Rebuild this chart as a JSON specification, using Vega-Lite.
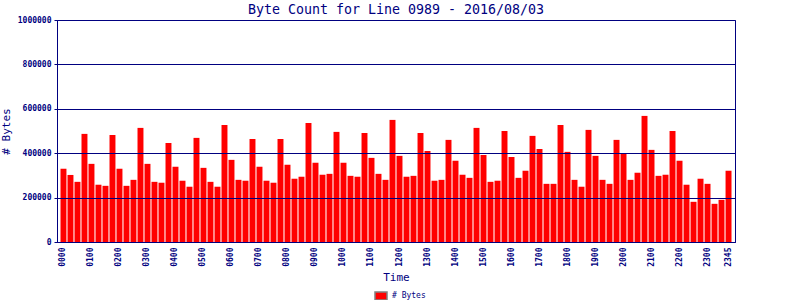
{
  "$schema": "https://vega.github.io/schema/vega-lite/v6.json",
  "autosize": {"type": "none"},
  "width": 678,
  "height": 222,
  "padding": {"left": 57, "top": 20, "right": 65, "bottom": 58},
  "background": "white",
  "title": {
    "text": "Byte Count for Line 0989 - 2016/08/03",
    "font": "DejaVu Sans Mono",
    "fontSize": 13.3,
    "fontWeight": "normal",
    "color": "#000080",
    "anchor": "middle",
    "offset": 0
  },
  "config": {
    "view": {"stroke": "#000080", "strokeWidth": 1},
    "font": "DejaVu Sans Mono"
  },
  "data": {
    "values": [
      {"t": "0000", "b": 330000}, {"t": "0015", "b": 302000}, {"t": "0030", "b": 271000}, {"t": "0045", "b": 487000},
      {"t": "0100", "b": 352000}, {"t": "0115", "b": 258000}, {"t": "0130", "b": 253000}, {"t": "0145", "b": 482000},
      {"t": "0200", "b": 330000}, {"t": "0215", "b": 253000}, {"t": "0230", "b": 280000}, {"t": "0245", "b": 514000},
      {"t": "0300", "b": 352000}, {"t": "0315", "b": 271000}, {"t": "0330", "b": 267000}, {"t": "0345", "b": 446000},
      {"t": "0400", "b": 339000}, {"t": "0415", "b": 276000}, {"t": "0430", "b": 249000}, {"t": "0445", "b": 469000},
      {"t": "0500", "b": 334000}, {"t": "0515", "b": 271000}, {"t": "0530", "b": 249000}, {"t": "0545", "b": 527000},
      {"t": "0600", "b": 370000}, {"t": "0615", "b": 280000}, {"t": "0630", "b": 276000}, {"t": "0645", "b": 464000},
      {"t": "0700", "b": 339000}, {"t": "0715", "b": 276000}, {"t": "0730", "b": 267000}, {"t": "0745", "b": 464000},
      {"t": "0800", "b": 348000}, {"t": "0815", "b": 285000}, {"t": "0830", "b": 294000}, {"t": "0845", "b": 536000},
      {"t": "0900", "b": 357000}, {"t": "0915", "b": 303000}, {"t": "0930", "b": 307000}, {"t": "0945", "b": 496000},
      {"t": "1000", "b": 357000}, {"t": "1015", "b": 298000}, {"t": "1030", "b": 294000}, {"t": "1045", "b": 491000},
      {"t": "1100", "b": 379000}, {"t": "1115", "b": 307000}, {"t": "1130", "b": 280000}, {"t": "1145", "b": 550000},
      {"t": "1200", "b": 388000}, {"t": "1215", "b": 294000}, {"t": "1230", "b": 298000}, {"t": "1245", "b": 491000},
      {"t": "1300", "b": 410000}, {"t": "1315", "b": 276000}, {"t": "1330", "b": 280000}, {"t": "1345", "b": 460000},
      {"t": "1400", "b": 366000}, {"t": "1415", "b": 303000}, {"t": "1430", "b": 289000}, {"t": "1445", "b": 514000},
      {"t": "1500", "b": 392000}, {"t": "1515", "b": 271000}, {"t": "1530", "b": 276000}, {"t": "1545", "b": 500000},
      {"t": "1600", "b": 383000}, {"t": "1615", "b": 289000}, {"t": "1630", "b": 321000}, {"t": "1645", "b": 478000},
      {"t": "1700", "b": 419000}, {"t": "1715", "b": 262000}, {"t": "1730", "b": 262000}, {"t": "1745", "b": 527000},
      {"t": "1800", "b": 406000}, {"t": "1815", "b": 280000}, {"t": "1830", "b": 249000}, {"t": "1845", "b": 505000},
      {"t": "1900", "b": 388000}, {"t": "1915", "b": 280000}, {"t": "1930", "b": 262000}, {"t": "1945", "b": 460000},
      {"t": "2000", "b": 400000}, {"t": "2015", "b": 280000}, {"t": "2030", "b": 312000}, {"t": "2045", "b": 568000},
      {"t": "2100", "b": 415000}, {"t": "2115", "b": 298000}, {"t": "2130", "b": 303000}, {"t": "2145", "b": 500000},
      {"t": "2200", "b": 366000}, {"t": "2215", "b": 258000}, {"t": "2230", "b": 181000}, {"t": "2245", "b": 285000},
      {"t": "2300", "b": 262000}, {"t": "2315", "b": 172000}, {"t": "2330", "b": 190000}, {"t": "2345", "b": 321000}
    ]
  },
  "mark": {"type": "bar", "color": "#FF0000"},
  "encoding": {
    "x": {
      "field": "t",
      "type": "ordinal",
      "sort": null,
      "scale": {"paddingInner": 0.15, "paddingOuter": 0.5},
      "axis": {
        "title": "Time",
        "titleFont": "DejaVu Sans Mono",
        "titleFontSize": 11,
        "titleFontWeight": "normal",
        "titleColor": "#000080",
        "titlePadding": 5,
        "labelAngle": -90,
        "labelAlign": "right",
        "labelBaseline": "middle",
        "labelFont": "DejaVu Sans Mono",
        "labelFontSize": 8,
        "labelFontWeight": "bold",
        "labelColor": "#000080",
        "labelPadding": 5,
        "labelOverlap": false,
        "labelExpr": "(substring(datum.value, 2, 4) == '00' || datum.value == '2345') ? datum.value : ''",
        "ticks": false,
        "domainColor": "#000080",
        "grid": false
      }
    },
    "y": {
      "field": "b",
      "type": "quantitative",
      "scale": {"domain": [0, 1000000], "nice": false},
      "axis": {
        "title": "# Bytes",
        "titleFont": "DejaVu Sans Mono",
        "titleFontSize": 11,
        "titleFontWeight": "normal",
        "titleColor": "#000080",
        "titlePadding": 6,
        "values": [0, 200000, 400000, 600000, 800000, 1000000],
        "format": "d",
        "labelFont": "DejaVu Sans Mono",
        "labelFontSize": 8,
        "labelFontWeight": "bold",
        "labelColor": "#000080",
        "labelPadding": 3,
        "tickColor": "#000080",
        "tickSize": 3,
        "domainColor": "#000080",
        "grid": true,
        "gridColor": "#000080",
        "gridOpacity": 1,
        "gridWidth": 1,
        "zindex": 1
      }
    },
    "fill": {
      "datum": "# Bytes",
      "type": "nominal",
      "scale": {"range": ["#FF0000"]},
      "legend": {
        "title": null,
        "orient": "none",
        "legendX": 317,
        "legendY": 269,
        "direction": "horizontal",
        "symbolType": "M-1,-0.65H1V0.65H-1Z",
        "symbolSize": 144,
        "symbolStrokeColor": "#808080",
        "symbolStrokeWidth": 1.5,
        "labelFont": "DejaVu Sans Mono",
        "labelFontSize": 8,
        "labelColor": "#000080",
        "labelOffset": 4
      }
    }
  }
}
